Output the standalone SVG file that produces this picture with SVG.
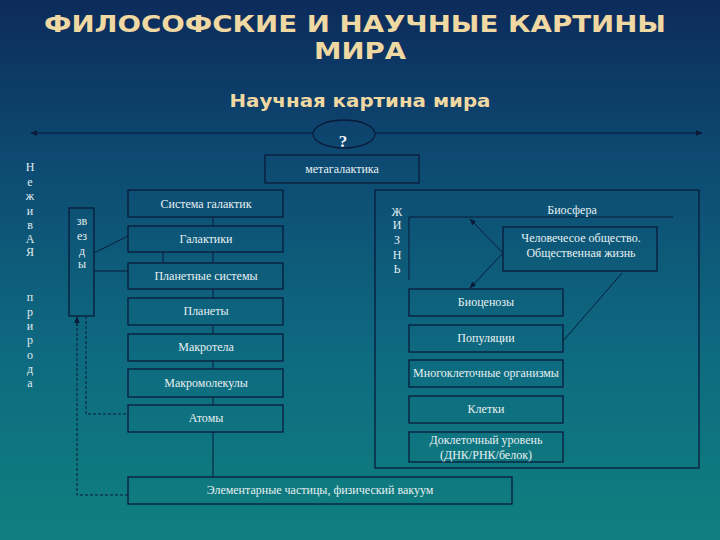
<svg xmlns="http://www.w3.org/2000/svg" width="720" height="540" viewBox="0 0 720 540">
<defs>
<linearGradient id="bg" x1="0" y1="0" x2="0" y2="1">
<stop offset="0" stop-color="#0c2b5b"/>
<stop offset="0.3" stop-color="#0d4a72"/>
<stop offset="0.65" stop-color="#0e6a80"/>
<stop offset="1" stop-color="#0f807f"/>
</linearGradient>
<marker id="ah" viewBox="0 0 10 10" refX="9" refY="5" markerWidth="7" markerHeight="7" orient="auto-start-reverse" markerUnits="userSpaceOnUse">
<path d="M0,1 L10,5 L0,9 z" fill="#0a1a38"/>
</marker>
<style>
.box{fill:none;stroke:#0a1b3a;stroke-width:1.3}
.ln{fill:none;stroke:#0a1b3a;stroke-width:1}
.dash{fill:none;stroke:#0a1b3a;stroke-width:1;stroke-dasharray:3,2}
.t{font-family:"Liberation Serif","DejaVu Serif",serif;font-size:12px;fill:#e8f0f2;text-anchor:middle}
.v{font-family:"Liberation Serif","DejaVu Serif",serif;font-size:12px;fill:#e0ecf0;text-anchor:middle}
.title{font-family:"DejaVu Sans","Liberation Sans",sans-serif;font-weight:bold;fill:#efd8a2;text-anchor:middle}
</style>
</defs>
<rect width="720" height="540" fill="url(#bg)"/>

<g id="titles">
<text class="title" x="355" y="32" font-size="23" textLength="622" lengthAdjust="spacingAndGlyphs">ФИЛОСОФСКИЕ И НАУЧНЫЕ КАРТИНЫ</text>
<text class="title" x="360" y="59" font-size="23" textLength="92" lengthAdjust="spacingAndGlyphs">МИРА</text>
<text class="title" x="360" y="107" font-size="18" textLength="261" lengthAdjust="spacingAndGlyphs">Научная картина мира</text>
</g>

<g id="connectors">
<line class="ln" x1="313" y1="133" x2="31" y2="133" marker-end="url(#ah)"/>
<line class="ln" x1="375" y1="133" x2="702" y2="133" marker-end="url(#ah)"/>
<line class="ln" x1="213" y1="217" x2="213" y2="226"/>
<line class="ln" x1="213" y1="252" x2="213" y2="263"/>
<line class="ln" x1="163" y1="252" x2="163" y2="263"/>
<line class="ln" x1="213" y1="289" x2="213" y2="298"/>
<line class="ln" x1="213" y1="325" x2="213" y2="334"/>
<line class="ln" x1="213" y1="361" x2="213" y2="369"/>
<line class="ln" x1="213" y1="397" x2="213" y2="405"/>
<line class="ln" x1="213" y1="432" x2="213" y2="477"/>
<line class="ln" x1="94" y1="253" x2="128" y2="236"/>
<line class="ln" x1="94" y1="271" x2="128" y2="271"/>
<polyline class="dash" points="128,495 77,495 77,324"/>
<line class="ln" x1="77" y1="326" x2="77" y2="317" marker-end="url(#ah)"/>
<polyline class="dash" points="86,316 86,414 128,414"/>
<line class="ln" x1="503" y1="253" x2="470" y2="219" marker-end="url(#ah)"/>
<line class="ln" x1="503" y1="253" x2="470" y2="288" marker-end="url(#ah)"/>
<line class="ln" x1="622" y1="273" x2="563" y2="341"/>
</g>

<g id="question">
<ellipse class="box" cx="344" cy="134" rx="31" ry="14"/>
<text x="343" y="147" font-family="Liberation Serif,serif" font-weight="bold" font-size="17" fill="#f2f4f4" text-anchor="middle">?</text>
</g>

<g id="nezhivaya">
<text class="v" x="30" y="171">Н</text>
<text class="v" x="30" y="186">е</text>
<text class="v" x="30" y="200">ж</text>
<text class="v" x="30" y="215">и</text>
<text class="v" x="30" y="229">в</text>
<text class="v" x="30" y="243">А</text>
<text class="v" x="30" y="256">Я</text>
<text class="v" x="30" y="301">п</text>
<text class="v" x="30" y="316">р</text>
<text class="v" x="30" y="330">и</text>
<text class="v" x="30" y="344">р</text>
<text class="v" x="30" y="359">о</text>
<text class="v" x="30" y="373">д</text>
<text class="v" x="30" y="387">а</text>
</g>

<g id="metagalaktika"><rect class="box" x="265" y="155" width="154" height="28"/><text class="t" x="342" y="173" font-size="11">метагалактика</text></g>
<g id="sistema-galaktik"><rect class="box" x="128" y="190" width="155" height="27"/><text class="t" x="206" y="208">Система галактик</text></g>
<g id="galaktiki"><rect class="box" x="128" y="226" width="155" height="26"/><text class="t" x="206" y="243">Галактики</text></g>
<g id="planetnye-sistemy"><rect class="box" x="128" y="263" width="155" height="26"/><text class="t" x="206" y="280">Планетные системы</text></g>
<g id="planety"><rect class="box" x="128" y="298" width="155" height="27"/><text class="t" x="206" y="315">Планеты</text></g>
<g id="makrotela"><rect class="box" x="128" y="334" width="155" height="27"/><text class="t" x="206" y="351">Макротела</text></g>
<g id="makromolekuly"><rect class="box" x="128" y="369" width="155" height="28"/><text class="t" x="206" y="387">Макромолекулы</text></g>
<g id="atomy"><rect class="box" x="128" y="405" width="155" height="27"/><text class="t" x="206" y="422">Атомы</text></g>
<g id="elementarnye"><rect class="box" x="128" y="477" width="384" height="27"/><text class="t" x="320" y="494">Элементарные частицы, физический вакуум</text></g>

<g id="zvezdy">
<rect class="box" x="69" y="208" width="25" height="108"/>
<text class="v" x="82" y="225" font-size="11">зв</text>
<text class="v" x="82" y="240" font-size="11">ез</text>
<text class="v" x="82" y="255" font-size="11">д</text>
<text class="v" x="82" y="268" font-size="11">ы</text>
</g>

<g id="zhizn">
<rect class="box" x="375" y="190" width="324" height="278"/>
<text class="v" x="397" y="216">Ж</text>
<text class="v" x="397" y="229">И</text>
<text class="v" x="397" y="244">З</text>
<text class="v" x="397" y="259">Н</text>
<text class="v" x="397" y="273">Ь</text>
</g>

<g id="biosfera">
<polyline class="ln" points="409,280 409,217 673,217"/>
<text class="t" x="572" y="214" font-size="11">Биосфера</text>
</g>

<g id="chelovecheskoe">
<rect class="box" x="503" y="227" width="154" height="44"/>
<text class="t" x="581" y="242" font-size="11">Человечесое общество.</text>
<text class="t" x="581" y="257" font-size="11">Общественная жизнь</text>
</g>

<g id="biocenozy"><rect class="box" x="409" y="289" width="154" height="27"/><text class="t" x="486" y="306" font-size="11">Биоценозы</text></g>
<g id="populyacii"><rect class="box" x="409" y="325" width="154" height="27"/><text class="t" x="486" y="342" font-size="11">Популяции</text></g>
<g id="mnogokletochnye"><rect class="box" x="409" y="360" width="154" height="27"/><text class="t" x="486" y="377" font-size="10">Многоклеточные организмы</text></g>
<g id="kletki"><rect class="box" x="409" y="396" width="154" height="27"/><text class="t" x="486" y="413" font-size="11">Клетки</text></g>
<g id="dokletochny">
<rect class="box" x="409" y="432" width="154" height="30"/>
<text class="t" x="486" y="444" font-size="11">Доклеточный уровень</text>
<text class="t" x="486" y="459" font-size="11">(ДНК/РНК/белок)</text>
</g>
</svg>
